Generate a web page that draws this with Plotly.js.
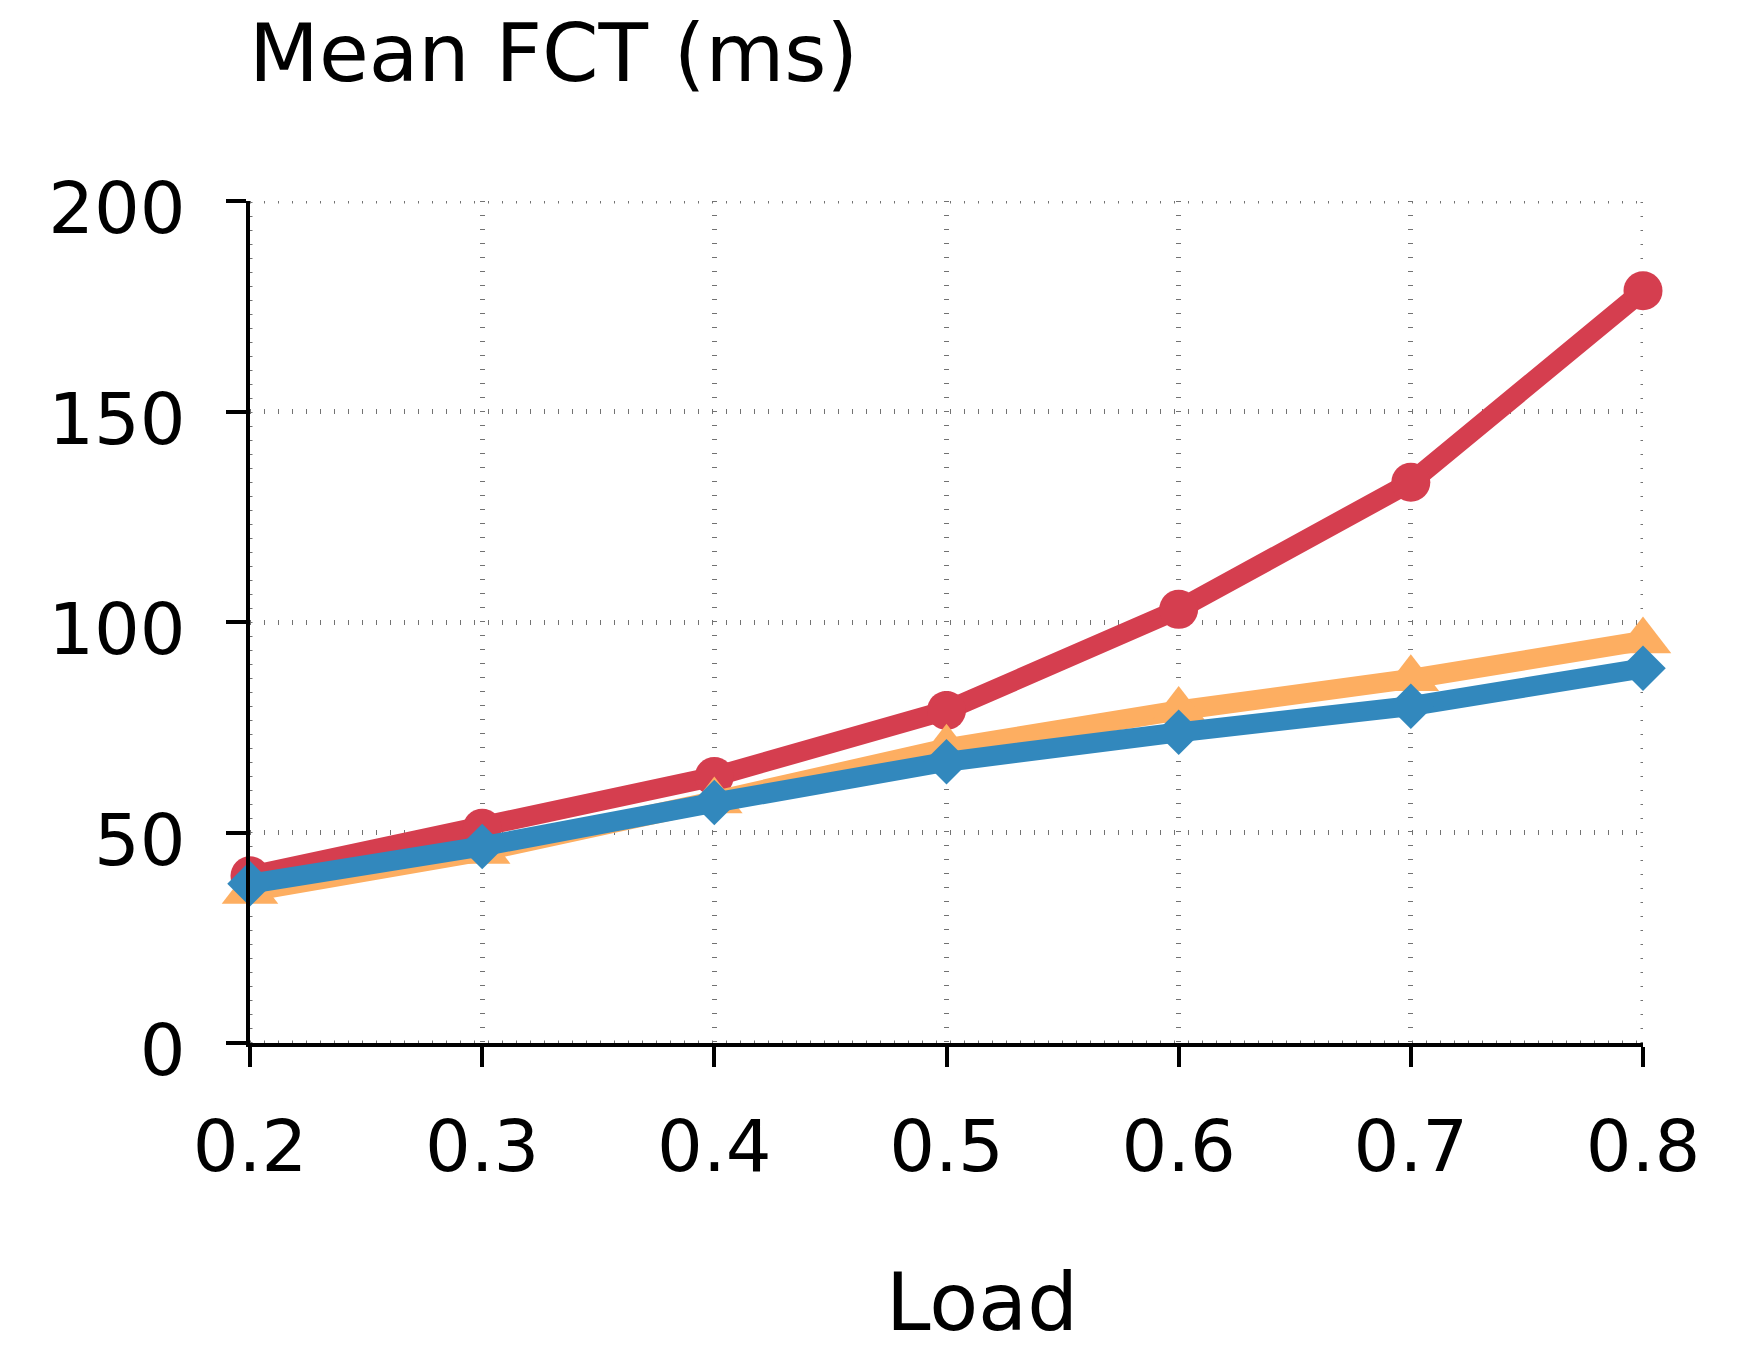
<!DOCTYPE html>
<html>
<head>
<meta charset="utf-8">
<script src="https://cdn.plot.ly/plotly-3.0.1.min.js"></script>
<style>html,body{margin:0;padding:0;background:#fff;}#chart{width:1758px;height:1348px;}</style>
</head>
<body>
<div id="chart"></div>
<script>
const loads = [0.2, 0.3, 0.4, 0.5, 0.6, 0.7, 0.8];
const redSeries = [39.7, 51.0, 63.3, 79.0, 103.0, 133.2, 178.7];
const orangeSeries = [36.0, 45.5, 57.5, 70.0, 79.0, 86.5, 95.5];
const blueSeries = [37.8, 46.7, 57.1, 66.8, 73.8, 80.0, 89.0];
const xTickVals = [0.2, 0.3, 0.4, 0.5, 0.6, 0.7, 0.8];
const xTickText = ['0.2', '0.3', '0.4', '0.5', '0.6', '0.7', '0.8'];
const yTickVals = [0, 50, 100, 150, 200];
const xRange = [0.2, 0.8];
const yRange = [0, 200];

const FONT = 'DejaVu Sans, Verdana, sans-serif';
const GRID_COLOR = '#727272';
const GRID_DASH = '1px,13px';

const traces = [
  {x: loads, y: redSeries, mode: 'lines+markers', cliponaxis: false,
   line: {color: '#D53E4F', width: 20},
   marker: {symbol: 'circle', size: 39, color: '#D53E4F'}},
  {x: loads, y: orangeSeries, mode: 'lines+markers', cliponaxis: false,
   line: {color: '#FDAE61', width: 20},
   marker: {symbol: 'triangle-up', size: 49, color: '#FDAE61'}},
  {x: loads, y: blueSeries, mode: 'lines+markers', cliponaxis: false,
   line: {color: '#3288BD', width: 20},
   marker: {symbol: 'diamond', size: 35, color: '#3288BD'}}
];

// Edge grid lines (Plotly hides grid lines that fall on the range edges)
const edgeShapes = [
  {type: 'line', layer: 'below', xref: 'paper', yref: 'y', x0: 0, x1: 1, y0: yRange[1], y1: yRange[1],
   line: {color: GRID_COLOR, width: 5, dash: GRID_DASH}},
  {type: 'line', layer: 'below', xref: 'paper', yref: 'y', x0: 0, x1: 1, y0: yRange[0], y1: yRange[0],
   line: {color: GRID_COLOR, width: 5, dash: GRID_DASH}},
  {type: 'line', layer: 'below', xref: 'x', yref: 'paper', x0: xRange[1], x1: xRange[1], y0: 0, y1: 1,
   line: {color: GRID_COLOR, width: 5, dash: GRID_DASH}},
  {type: 'line', layer: 'below', xref: 'x', yref: 'paper', x0: xRange[0], x1: xRange[0], y0: 0, y1: 1,
   line: {color: GRID_COLOR, width: 5, dash: GRID_DASH}}
];

const layout = {
  width: 1758, height: 1348,
  paper_bgcolor: '#fff', plot_bgcolor: '#fff',
  showlegend: false,
  font: {family: FONT, color: '#000'},
  margin: {l: 250, r: 115, t: 201, b: 305, pad: 0},
  title: {text: 'Mean FCT (ms)', font: {family: FONT, size: 81, color: '#000'},
          x: 249 / 1758, xanchor: 'left', xref: 'container',
          y: 1 - 24 / 1348, yanchor: 'top', yref: 'container'},
  xaxis: {
    range: xRange, tickmode: 'array', tickvals: xTickVals, ticktext: xTickText,
    showline: true, linecolor: '#000', linewidth: 4,
    ticks: 'outside', ticklen: 20, tickwidth: 4, tickcolor: '#000',
    tickfont: {family: FONT, size: 72, color: '#000'},
    ticklabelstandoff: 18,
    showgrid: true, gridcolor: GRID_COLOR, gridwidth: 5, griddash: GRID_DASH,
    zeroline: false
  },
  yaxis: {
    range: yRange, tickmode: 'array', tickvals: yTickVals,
    showline: true, linecolor: '#000', linewidth: 4,
    ticks: 'outside', ticklen: 20, tickwidth: 4, tickcolor: '#000',
    tickfont: {family: FONT, size: 72, color: '#000'},
    ticklabelstandoff: 26, ticklabelshift: 7,
    showgrid: true, gridcolor: GRID_COLOR, gridwidth: 5, griddash: GRID_DASH,
    zeroline: false
  },
  shapes: edgeShapes,
  annotations: [{
    text: 'Load', xref: 'paper', yref: 'paper',
    x: (982 - 250) / 1393, y: (1043 - 1302) / 842,
    xanchor: 'center', yanchor: 'middle', showarrow: false,
    font: {family: FONT, size: 80, color: '#000'}
  }]
};

Plotly.newPlot('chart', traces, layout, {displayModeBar: false, staticPlot: true});
</script>
</body>
</html>
